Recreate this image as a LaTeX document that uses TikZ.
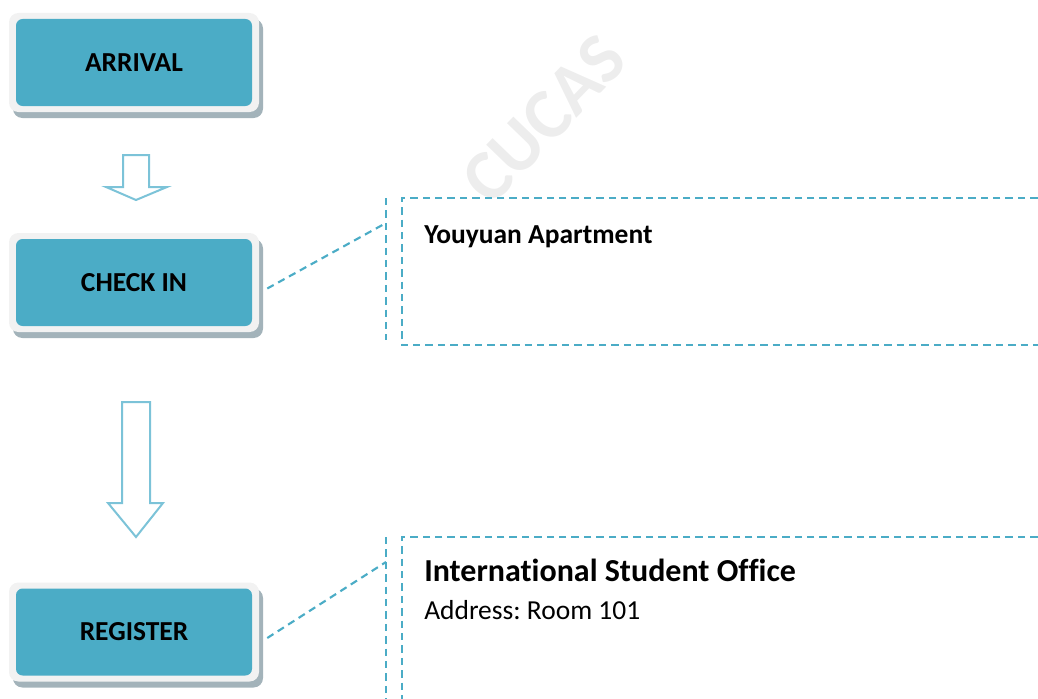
\documentclass[tikz,border=0pt]{standalone}
\usepackage{fontspec}
\setmainfont[RawFeature={-liga;-clig}]{Carlito}
\usepackage{xcolor}
\usetikzlibrary{shadows}
\frenchspacing

\definecolor{boxteal}{HTML}{4BACC6}
\definecolor{boxrim}{HTML}{F2F2F2}
\definecolor{boxshade}{HTML}{A3B3BA}
\definecolor{arrowblue}{HTML}{7CC3D8}

\tikzset{
  outerbox/.style={fill=boxrim, rounded corners=7pt, minimum width=187.5pt, minimum height=74.25pt,
    drop shadow={shadow xshift=3pt, shadow yshift=-4.5pt, fill=boxshade, opacity=1}},
  innerbox/.style={fill=boxteal, rounded corners=5pt, minimum width=177pt, minimum height=65.25pt,
    font=\fontsize{20.6}{24}\selectfont\bfseries},
  hollowarrow/.style={draw=arrowblue, line width=1.5pt, fill=white, line join=miter},
  leader/.style={draw=boxteal, line width=1.6pt, dash pattern=on 5.5pt off 3.8pt},
  calltext/.style={anchor=base west, inner sep=0pt, font=\fontsize{20.6}{24}\selectfont},
}

\begin{document}
\begin{tikzpicture}[x=0.75pt,y=-0.75pt]

\useasboundingbox (0,0) rectangle (1038,699);
\clip (0,0) rectangle (1038,699);

% watermark
\node (cucas) [rotate=46, text=gray!14, font=\fontsize{54}{54}\selectfont\bfseries] at (544,119) {CUCAS};

% steps
\node[outerbox] (arrival) at (134,62.5) {};
\node[innerbox] (arrival-in) at (arrival) {ARRIVAL};

\node[outerbox] (checkin) at (134,282.5) {};
\node[innerbox] (checkin-in) at (checkin) {CHECK IN};

\node[outerbox] (register) at (134,632) {};
\node[innerbox] (register-in) at (register) {REGISTER};

% arrows
\filldraw[hollowarrow] (123,155) -- (149,155) -- (149,187) -- (167,187) -- (136,200) -- (106,187) -- (123,187) -- cycle;
\filldraw[hollowarrow] (122,402) -- (150,402) -- (150,503) -- (163,503) -- (136,537) -- (108,503) -- (122,503) -- cycle;

% check in callout
\coordinate (checkin-tip) at (386,223);
\draw[leader] ([xshift=6pt,yshift=-4.5pt]checkin.east) -- (checkin-tip);
\draw[leader] (386,198) -- (386,340);
\draw[leader] (1050,198) -- (402,198) -- (402,345) -- (1050,345);

\node (youyuan) [calltext, font=\fontsize{20.6}{24}\selectfont\bfseries] at (424,243) {Youyuan Apartment};

% register callout
\coordinate (register-tip) at (386,562);
\draw[leader] ([xshift=6pt,yshift=-4.5pt]register.east) -- (register-tip);
\draw[leader] (386,537) -- (386,710);
\draw[leader] (1050,537) -- (402,537) -- (402,710);

\node (iso) [calltext, font=\fontsize{24}{28}\selectfont\bfseries] at (424,581) {International Student Office};
\node (address) [calltext] at (424,619) {Address: Room 101};

\end{tikzpicture}
\end{document}
